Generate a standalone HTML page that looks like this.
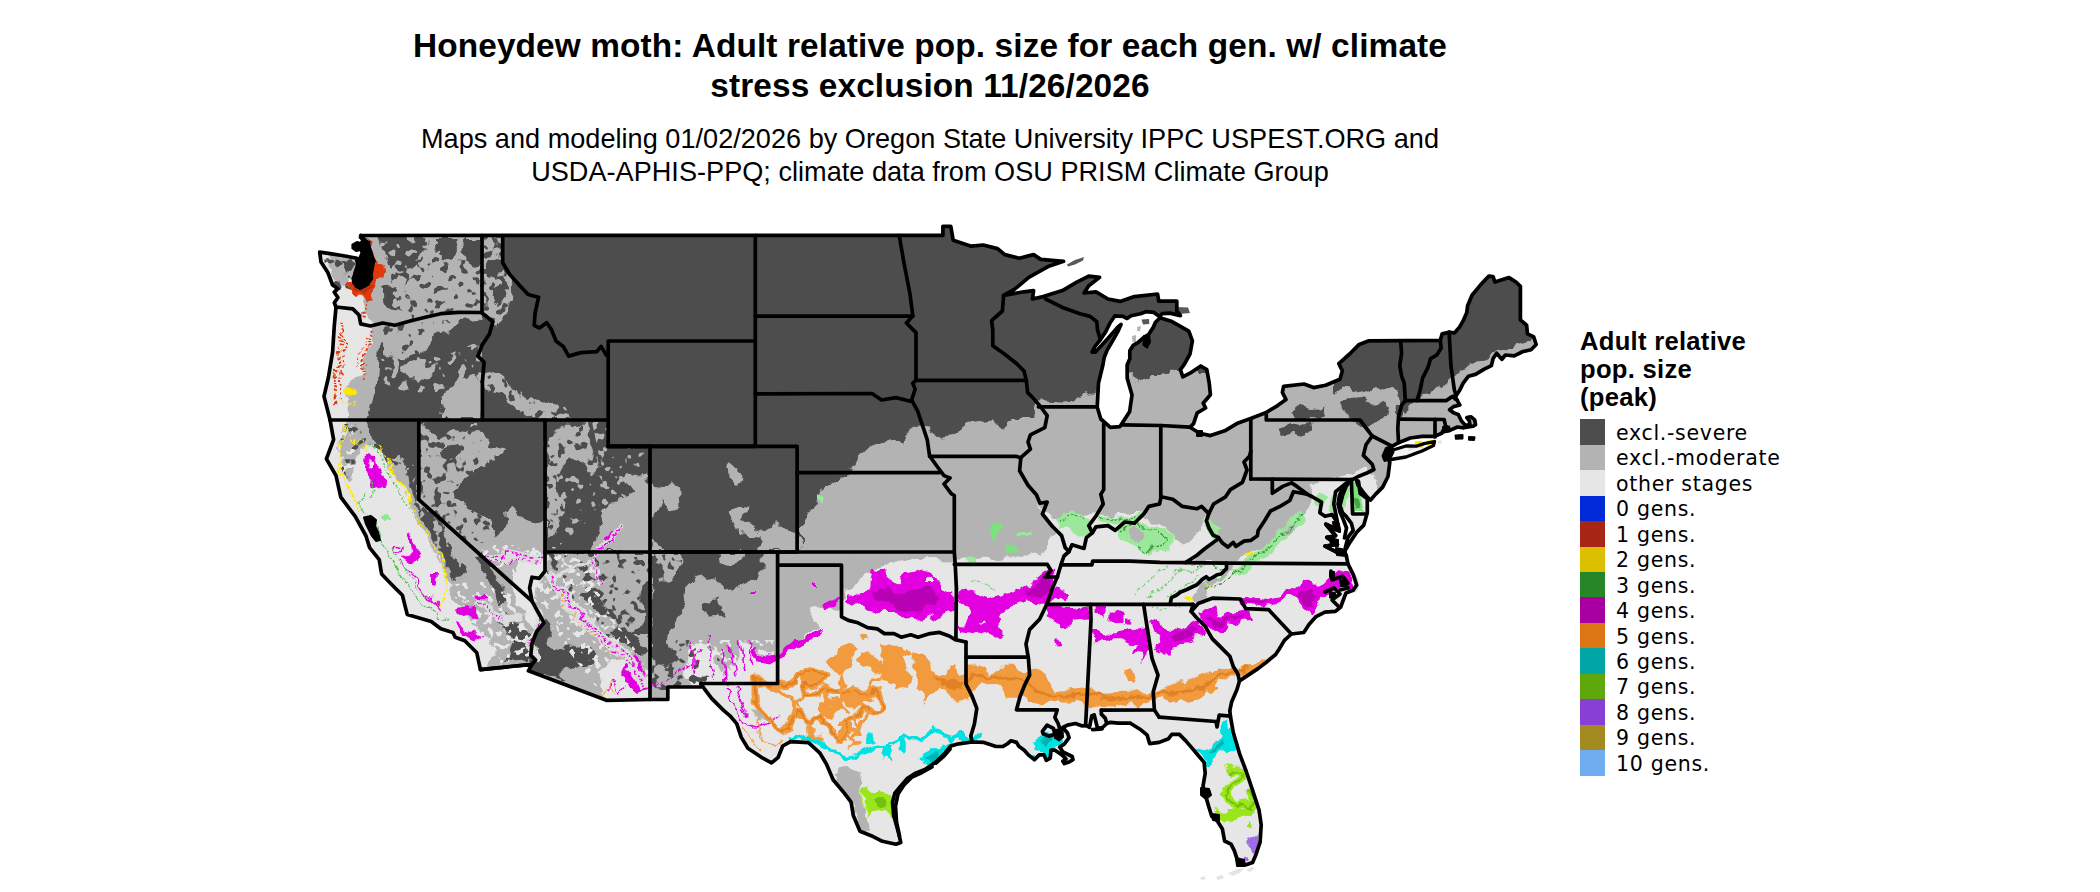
<!DOCTYPE html>
<html><head><meta charset="utf-8"><title>Honeydew moth</title>
<style>
html,body{margin:0;padding:0;background:#fff}
#p{position:relative;width:2100px;height:892px;overflow:hidden;background:#fff;font-family:"Liberation Sans",sans-serif;color:#000}
.t{position:absolute;left:0;width:1860px;text-align:center;white-space:nowrap}
#t1,#t2{font-weight:bold;font-size:33.4px;line-height:40px;letter-spacing:0.115px}
#s1,#s2{font-size:27.1px;line-height:33px;color:#000;letter-spacing:0.02px}
.lt{position:absolute;left:1580px;font-weight:bold;font-size:25.6px;line-height:28px;white-space:nowrap;letter-spacing:0.28px}
.sw{position:absolute;left:1580px;width:25px;height:25.6px}
.lb{position:absolute;left:1616px;height:25.44px;line-height:25.44px;font-family:"DejaVu Sans",sans-serif;font-size:20.5px;letter-spacing:0.7px;white-space:nowrap}
</style></head><body><div id="p">
<svg width="2100" height="892" viewBox="0 0 2100 892" style="position:absolute;left:0;top:0">
<defs><clipPath id="land"><polygon points="360.7,235.5 942.9,235.4 942.9,226.3 950.8,226.3 953.2,240.2 971.2,246.2 983.2,245.0 997.6,248.6 1004.8,254.6 1019.2,258.2 1033.6,254.6 1040.8,259.4 1063.6,261.3 1048.0,266.6 1028.8,277.4 1014.4,289.4 1003.6,295.4 1024.0,291.8 1033.6,290.6 1032.4,299.0 1043.2,296.6 1062.4,290.6 1076.8,282.2 1088.8,276.2 1099.6,277.4 1088.8,285.8 1084.0,293.0 1096.0,291.8 1108.0,299.0 1120.0,301.4 1134.4,296.6 1157.6,294.0 1158.8,301.2 1176.8,301.2 1176.8,311.0 1180.4,315.6 1170.0,313.1 1162.1,313.7 1159.4,316.4 1154.0,312.4 1145.9,311.7 1140.5,313.7 1131.1,315.8 1127.1,318.5 1123.0,316.4 1115.0,315.8 1110.3,322.5 1105.6,331.9 1100.2,340.0 1094.8,346.7 1092.1,352.1 1095.5,352.1 1102.2,344.7 1108.3,338.0 1113.6,331.9 1117.7,327.2 1121.0,324.5 1117.7,331.9 1112.3,341.3 1106.9,350.7 1104.2,357.5 1102.9,365.0 1098.5,383.0 1097.2,407.0 1100.8,419.0 1110.4,427.4 1120.0,426.6 1129.6,411.8 1132.0,395.0 1127.2,378.2 1127.1,365.0 1129.8,358.8 1129.8,350.7 1133.1,345.4 1137.8,342.7 1143.9,337.3 1148.6,334.6 1153.3,327.2 1155.3,322.5 1160.0,317.8 1172.0,321.6 1188.8,331.2 1192.4,340.8 1190.0,354.0 1184.0,364.8 1180.4,369.6 1182.8,376.8 1190.0,373.2 1200.8,366.0 1206.8,369.6 1209.2,382.8 1210.4,394.8 1203.2,403.2 1205.6,408.0 1197.2,412.8 1193.6,423.6 1190.0,427.2 1199.6,433.2 1210.4,435.6 1224.8,430.8 1236.8,423.6 1250.0,418.8 1265.6,412.8 1277.6,405.6 1286.0,399.6 1282.4,392.4 1283.6,386.4 1304.0,384.0 1313.6,387.6 1325.6,385.2 1340.0,379.2 1342.4,370.8 1338.8,363.6 1349.6,354.0 1359.2,344.4 1369.0,340.8 1440.3,340.3 1442.1,333.9 1449.1,332.2 1454.4,333.0 1459.7,326.9 1463.2,320.7 1466.7,312.8 1467.6,305.8 1472.0,295.2 1480.8,284.6 1488.7,276.2 1493.1,276.7 1494.9,282.0 1509.0,277.6 1516.0,282.0 1520.4,286.4 1520.4,319.8 1526.6,325.1 1527.5,333.9 1533.6,336.6 1536.2,344.5 1531.0,349.8 1523.0,351.5 1514.2,355.9 1505.4,355.0 1501.9,359.4 1496.6,353.3 1493.1,358.6 1491.4,365.6 1484.3,369.1 1475.5,374.4 1468.5,376.2 1463.2,383.2 1459.7,390.2 1456.2,395.5 1455.5,399.0 1454.9,395.6 1458.4,402.6 1459.8,405.0 1453.5,406.6 1449.6,409.7 1453.5,412.8 1458.2,414.4 1461.3,420.7 1465.3,425.4 1470.0,424.6 1469.2,420.7 1466.8,417.6 1470.8,416.8 1474.7,419.9 1475.5,424.6 1473.1,426.2 1463.7,427.8 1457.4,427.0 1450.4,430.1 1448.8,428.5 1445.6,426.2 1444.1,428.5 1441.7,433.3 1434.7,436.4 1422.1,436.4 1410.3,438.0 1398.5,442.7 1391.5,446.6 1386.2,455.4 1389.8,462.4 1388.0,476.5 1382.7,487.1 1375.7,494.1 1370.6,500.0 1367.8,497.6 1363.4,492.4 1358.1,485.3 1356.3,479.6 1358.5,481.5 1360.2,493.4 1367.3,498.7 1367.3,512.8 1363.8,525.1 1356.7,532.2 1349.7,542.7 1346.2,548.9 1345.3,548.0 1347.9,537.4 1353.2,530.4 1351.4,523.4 1346.2,516.3 1342.6,512.8 1340.0,505.8 1342.6,495.2 1346.2,486.4 1351.4,479.6 1344.4,484.6 1335.6,491.7 1333.8,504.0 1335.6,512.8 1339.1,530.4 1325.9,524.2 1335.6,535.7 1326.8,537.4 1337.4,544.5 1325.0,546.2 1339.1,553.3 1346.2,555.0 1347.9,563.8 1353.2,574.4 1356.7,585.0 1353.2,590.2 1346.0,592.9 1340.7,607.0 1335.4,611.4 1324.9,612.2 1316.1,616.6 1309.0,624.6 1303.8,632.5 1291.4,634.0 1284.4,640.4 1279.1,649.2 1275.6,654.5 1265.0,663.3 1258.0,668.6 1247.4,675.6 1239.5,680.9 1236.9,689.7 1231.6,702.0 1229.8,710.8 1230.4,716.1 1233.2,732.3 1239.6,753.8 1246.1,771.0 1252.6,790.4 1259.0,809.8 1261.2,824.8 1260.1,842.1 1255.8,855.0 1252.6,862.5 1246.1,864.7 1239.6,864.7 1237.5,860.4 1234.3,850.7 1231.0,844.2 1224.6,841.0 1222.4,829.1 1217.0,820.5 1211.7,816.2 1208.4,805.5 1206.3,797.9 1203.0,786.1 1205.2,773.2 1204.1,762.4 1198.7,756.0 1192.3,748.4 1185.8,740.9 1179.4,734.4 1171.8,734.4 1168.6,738.7 1159.2,742.4 1149.6,743.6 1147.2,735.2 1140.0,729.2 1130.4,723.2 1118.4,723.2 1109.9,722.4 1106.8,723.5 1102.0,728.0 1097.3,727.5 1094.2,714.9 1091.8,715.7 1089.5,727.5 1086.3,725.5 1082.4,725.9 1075.4,723.5 1067.5,725.1 1062.8,727.5 1067.5,733.0 1069.1,737.7 1064.4,744.0 1059.7,747.1 1062.8,751.8 1072.2,756.5 1073.0,759.7 1069.1,762.0 1064.4,763.6 1062.8,761.2 1065.9,758.9 1062.0,754.9 1054.9,750.2 1051.0,750.2 1050.2,758.1 1046.3,760.4 1044.0,754.9 1039.2,754.9 1034.5,759.7 1028.3,754.9 1024.3,750.2 1018.8,746.3 1016.5,742.4 1011.0,740.8 1007.1,744.0 1003.1,746.3 996.0,746.5 984.0,742.4 972.1,742.0 958.7,743.8 950.8,746.0 945.2,752.8 936.2,761.7 925.0,769.6 916.1,772.9 907.1,778.6 900.4,786.4 894.8,793.1 892.5,802.1 893.7,815.5 898.1,831.2 900.8,842.4 895.9,844.2 882.4,841.3 871.2,835.7 860.0,831.2 853.3,815.5 851.1,802.1 844.3,793.1 833.1,779.7 826.4,764.0 819.7,752.8 808.5,742.7 790.5,741.6 782.7,746.0 778.2,757.3 771.5,762.9 761.4,757.3 747.9,748.3 741.2,737.1 736.7,723.6 730.0,715.8 723.6,710.4 711.6,698.4 704.4,688.8 700.8,683.5 703.2,687.0 667.8,687.0 667.8,699.5 650.0,699.5 606.4,700.3 528.4,670.8 532.0,664.3 480.4,669.6 476.8,652.8 464.8,640.8 455.2,637.2 452.8,632.4 440.8,628.8 431.2,621.6 407.2,614.4 402.4,595.2 390.4,583.2 381.6,574.0 379.2,559.6 369.6,547.6 366.0,536.0 355.2,516.4 340.8,497.2 336.0,475.6 326.4,458.8 333.6,439.6 330.0,419.7 324.0,396.4 328.5,377.0 332.6,352.0 334.3,325.6 336.0,307.0 334.3,302.7 337.9,297.5 334.3,292.2 337.9,288.7 332.6,285.0 328.0,272.8 321.0,262.0 319.7,252.2 330.0,253.7 345.0,256.0 356.9,258.2 358.0,264.0 355.0,273.0 353.5,282.0 360.0,288.0 368.0,284.0 371.5,272.0 373.5,261.0 370.0,250.0 366.0,241.0 360.7,235.5"/><polygon points="1384.0,457.5 1393.0,450.0 1406.0,446.0 1416.0,446.2 1424.0,443.6 1434.5,441.5 1433.5,445.5 1422.0,451.0 1406.0,457.0 1391.0,459.5"/></clipPath><filter id="rough" x="0" y="0" width="2100" height="892" filterUnits="userSpaceOnUse" color-interpolation-filters="sRGB"><feTurbulence type="fractalNoise" baseFrequency="0.06" numOctaves="3" seed="7" result="n"/><feDisplacementMap in="SourceGraphic" in2="n" scale="14" xChannelSelector="R" yChannelSelector="G"/></filter><filter id="spA" x="300" y="215" width="500" height="520" filterUnits="userSpaceOnUse" color-interpolation-filters="sRGB"><feTurbulence type="fractalNoise" baseFrequency="0.12" numOctaves="2" seed="11" result="t"/><feColorMatrix in="t" type="matrix" values="0 0 0 0 0  0 0 0 0 0  0 0 0 0 0  0 0 0 16 -9.3" result="m"/><feComposite in="SourceGraphic" in2="m" operator="in"/></filter><filter id="spB" x="300" y="215" width="500" height="520" filterUnits="userSpaceOnUse" color-interpolation-filters="sRGB"><feTurbulence type="fractalNoise" baseFrequency="0.12" numOctaves="2" seed="23" result="t"/><feColorMatrix in="t" type="matrix" values="0 0 0 0 0  0 0 0 0 0  0 0 0 0 0  0 0 0 16 -9.5" result="m"/><feComposite in="SourceGraphic" in2="m" operator="in"/></filter><filter id="spC" x="300" y="215" width="500" height="520" filterUnits="userSpaceOnUse" color-interpolation-filters="sRGB"><feTurbulence type="fractalNoise" baseFrequency="0.16" numOctaves="2" seed="37" result="t"/><feColorMatrix in="t" type="matrix" values="0 0 0 0 0  0 0 0 0 0  0 0 0 0 0  0 0 0 16 -9.1" result="m"/><feComposite in="SourceGraphic" in2="m" operator="in"/></filter></defs>
<g clip-path="url(#land)">
<rect x="300" y="215" width="1260" height="677" fill="#e6e6e6"/>
<g filter="url(#rough)">
<g fill="#b3b3b3">
<polygon points="340.0,225.0 1000.0,225.0 1000.0,560.0 901.6,558.7 868.0,572.0 854.5,582.0 844.4,595.7 841.0,615.9 830.0,608.0 820.9,605.8 810.8,609.1 817.5,626.0 804.1,636.0 787.2,649.5 777.2,659.6 767.1,663.0 753.6,646.1 740.2,642.8 733.4,663.0 726.7,676.4 720.0,673.0 712.0,650.0 700.0,640.0 690.0,650.0 686.0,670.0 690.0,700.0 700.0,760.0 300.0,760.0 300.0,225.0"/>
<polygon points="800.0,380.0 1560.0,330.0 1560.0,470.0 1400.0,470.0 1392.0,476.0 1384.0,490.0 1378.0,486.0 1374.0,478.0 1366.5,467.4 1359.8,470.8 1349.7,475.8 1336.0,477.5 1322.8,480.9 1309.4,487.6 1312.7,497.7 1302.6,514.5 1285.8,527.9 1269.0,544.8 1248.8,554.8 1228.6,563.3 1185.5,562.6 1196.9,555.2 1205.0,548.5 1217.1,539.7 1218.4,537.7 1213.0,535.0 1209.0,528.0 1206.4,520.8 1208.8,513.6 1206.4,516.0 1204.0,528.0 1192.0,537.6 1182.4,544.8 1172.8,535.2 1163.2,525.6 1151.2,520.8 1144.0,513.6 1134.5,512.8 1114.3,514.5 1100.9,512.8 1087.4,514.5 1067.2,517.9 1050.4,514.5 1037.0,504.4 1048.0,520.0 1054.4,533.2 1049.6,542.8 1035.2,552.4 1016.0,559.6 992.0,559.6 982.4,552.4 977.6,538.0 968.0,528.4 956.0,533.2 951.2,535.6 941.6,538.0 934.4,550.0 900.8,547.6 880.0,556.0 800.0,560.0"/>
<polygon points="1226.5,563.2 1234.0,563.5 1230.0,570.0 1222.0,578.0 1214.0,584.0 1208.0,590.0 1206.0,598.0 1200.0,604.0 1194.0,600.0 1198.0,590.0 1202.3,581.0 1209.0,580.5 1217.1,575.7 1222.0,573.0"/>
</g>
<g fill="#e6e6e6">
<polygon points="318.0,250.0 340.0,254.0 346.0,262.0 356.0,292.0 362.0,300.0 366.0,312.0 372.0,328.0 370.0,344.0 364.0,370.0 360.0,392.0 352.0,404.0 348.0,419.7 340.8,425.2 338.4,449.2 343.2,470.8 350.4,482.8 355.2,466.0 362.4,449.2 372.0,442.0 379.2,449.2 393.6,473.2 405.6,490.0 412.8,514.0 424.8,535.6 434.4,552.4 444.0,569.2 452.0,588.0 466.0,596.0 480.0,604.0 492.0,616.0 500.0,632.0 498.0,650.0 490.0,668.0 470.0,672.0 300.0,672.0 300.0,250.0"/>
<polygon points="520.0,560.0 534.0,552.0 544.0,556.0 546.0,574.0 536.0,584.0 534.0,600.0 540.0,616.0 536.0,630.0 528.0,620.0 518.0,604.0 510.0,590.0 514.0,574.0"/>
<polygon points="598.0,672.0 612.0,660.0 628.0,664.0 640.0,672.0 651.0,676.0 651.0,700.0 606.0,700.0"/>
</g>
<g fill="#b3b3b3">
<polygon points="330.0,258.0 344.0,256.0 352.0,264.0 350.0,276.0 344.0,286.0 336.0,280.0 332.0,268.0"/>
<polygon points="350.0,380.0 362.0,372.0 368.0,390.0 366.0,419.0 348.0,419.0"/>
<polygon points="340.8,425.2 369.6,424.0 372.0,442.0 362.4,449.2 355.2,466.0 350.4,482.8 343.2,470.8 338.4,449.2"/>
<polygon points="346.0,421.0 378.0,421.0 380.0,440.0 372.0,448.0 362.0,446.0 356.0,452.0 348.0,444.0"/>
<polygon points="452.0,588.0 470.0,580.0 486.0,584.0 500.0,600.0 516.0,612.0 530.0,622.0 532.0,640.0 520.0,636.0 508.0,640.0 498.0,650.0 488.0,640.0 476.0,624.0 462.0,610.0 454.0,600.0"/>
<polygon points="835.4,770.7 844.3,765.1 857.8,773.0 862.3,788.6 860.0,806.6 864.5,815.5 871.2,824.5 871.2,833.5 860.0,830.0 853.3,815.5 851.1,802.1 844.3,793.1"/>
<polygon points="752.0,712.0 766.0,714.0 770.0,722.0 756.0,720.0"/>
</g>
<g fill="#4d4d4d">
<polygon points="482.0,318.6 465.4,318.6 458.4,325.6 449.6,332.6 433.8,334.4 423.2,350.2 405.6,357.3 388.0,353.8 379.2,343.2 377.0,383.0 372.0,403.0 367.0,419.5 369.6,424.0 372.0,442.0 381.6,449.2 386.4,461.2 396.0,456.4 405.6,466.0 408.0,487.6 417.6,509.2 427.2,528.4 436.8,547.6 446.4,566.8 453.0,582.0 460.0,581.0 466.0,566.0 453.6,552.4 444.0,533.2 434.4,514.0 418.8,499.6 417.6,475.6 418.8,424.0 479.0,424.0 486.4,438.4 503.2,448.0 500.8,457.6 481.6,467.2 462.4,479.2 455.2,491.2 464.8,505.6 491.2,520.0 496.0,536.8 505.0,528.0 503.0,512.0 513.0,503.0 520.0,520.0 534.4,524.8 545.0,520.0 545.0,552.0 681.6,552.0 681.6,564.0 674.4,573.6 664.8,583.2 651.6,588.0 651.6,634.0 660.0,634.0 674.4,624.0 684.0,607.2 686.4,588.0 696.0,578.4 715.2,576.0 722.4,590.4 741.6,588.0 753.6,576.0 765.6,568.8 765.6,552.0 800.0,552.0 800.0,528.4 809.6,511.6 824.0,487.6 845.6,475.6 852.8,463.6 872.0,444.4 893.6,437.2 900.8,444.4 905.6,434.8 917.6,426.4 927.2,427.6 934.4,434.8 944.0,439.6 953.6,432.4 968.0,422.8 982.4,421.6 1004.0,427.6 1013.6,418.0 1035.2,418.0 1036.4,408.4 1040.0,401.2 1064.0,402.4 1080.0,397.0 1095.2,394.0 1120.0,376.0 1131.2,373.2 1137.0,384.0 1143.2,382.8 1150.0,378.0 1157.6,378.0 1169.6,370.8 1182.0,371.0 1230.0,371.0 1230.0,225.0 482.0,225.0"/>
<polygon points="1335.0,395.0 1345.0,388.0 1352.0,394.0 1362.0,392.0 1372.0,388.0 1380.0,392.0 1392.0,388.0 1398.0,394.0 1402.0,410.0 1408.0,414.0 1412.0,402.0 1420.0,400.0 1424.0,393.0 1430.0,394.0 1436.0,386.0 1442.0,388.0 1446.0,382.0 1452.0,376.0 1457.0,373.0 1463.0,369.0 1469.0,366.0 1477.0,362.0 1485.0,358.0 1491.0,354.0 1499.0,350.0 1510.0,347.5 1521.0,344.0 1534.0,340.0 1560.0,334.0 1560.0,260.0 1335.0,260.0"/>
<polygon points="1340.0,404.0 1350.0,398.0 1362.0,397.0 1372.0,402.0 1384.0,400.0 1388.0,408.0 1384.0,418.0 1376.0,424.0 1366.0,426.0 1356.0,420.0 1348.0,416.0 1342.0,412.0"/>
<polygon points="1288.0,412.0 1296.0,405.0 1306.0,403.0 1316.0,407.0 1324.0,406.0 1326.0,414.0 1318.0,420.0 1306.0,418.0 1296.0,420.0"/>
<polygon points="1278.0,428.0 1290.0,424.0 1302.0,426.0 1312.0,424.0 1314.0,432.0 1304.0,436.0 1292.0,434.0 1282.0,436.0"/>
<polygon points="1395.0,404.0 1404.0,404.0 1404.0,414.0 1398.0,420.0 1394.0,412.0"/>
<polygon points="379.0,237.0 425.0,237.0 428.0,250.0 418.0,256.0 414.0,268.0 408.0,280.0 400.0,276.0 392.0,282.0 388.0,270.0 384.0,256.0"/>
<polygon points="434.0,237.0 455.0,237.0 458.0,254.0 452.0,260.0 441.0,256.0 434.0,246.0"/>
<polygon points="462.0,237.0 481.0,237.0 481.0,262.0 470.0,264.0 464.0,256.0"/>
<polygon points="383.0,287.0 398.0,283.0 402.0,294.0 398.0,304.0 402.0,313.0 394.0,312.0 388.0,308.0 383.0,298.0"/>
<polygon points="339.0,262.0 350.0,258.0 356.0,266.0 352.0,273.0 343.0,272.0"/>
<polygon points="479.0,424.0 543.0,424.0 543.0,520.0 534.4,524.8 520.0,520.0 513.0,503.0 503.0,512.0 505.0,528.0 496.0,536.8 491.2,520.0 464.8,505.6 455.2,491.2 462.4,479.2 481.6,467.2 500.8,457.6 503.2,448.0 486.4,438.4"/>
<polygon points="424.0,424.0 470.0,424.0 466.0,432.0 450.0,430.0 440.0,436.0 428.0,432.0"/>
<polygon points="440.0,448.0 456.0,444.0 462.0,452.0 452.0,462.0 442.0,458.0"/>
<polygon points="474.0,556.0 482.0,552.0 490.0,566.0 498.0,580.0 504.0,598.0 500.0,604.0 492.0,590.0 484.0,574.0"/>
<polygon points="498.0,612.0 512.0,616.0 524.0,626.0 532.0,640.0 530.0,662.0 504.0,664.0 510.0,650.0 514.0,640.0 506.0,628.0 498.0,620.0"/>
<polygon points="532.0,628.0 546.0,622.0 552.0,632.0 548.0,646.0 562.0,650.0 576.0,644.0 590.0,648.0 596.0,660.0 586.0,668.0 570.0,664.0 560.0,672.0 566.0,680.0 540.0,674.0 530.0,668.0 534.0,650.0"/>
<polygon points="580.8,559.2 588.0,564.0 585.6,573.6 579.6,568.8"/>
<polygon points="583.2,585.6 595.2,588.0 602.4,602.4 619.2,619.2 612.0,621.6 592.8,607.2 584.4,597.6"/>
<polygon points="640.8,583.2 649.2,578.4 651.0,634.0 631.2,634.0 636.0,626.4 645.6,612.0 638.4,595.2"/>
<polygon points="612.0,630.0 626.0,628.0 640.0,640.0 648.0,652.0 640.0,656.0 628.0,646.0 616.0,640.0"/>
<polygon points="705.6,602.4 717.6,598.8 724.8,614.4 708.0,615.6"/>
<polygon points="655.0,560.0 664.0,570.0 658.0,590.0 652.0,596.0 652.0,560.0"/>
<polygon points="652.0,600.0 664.0,596.0 672.0,610.0 668.0,640.0 676.0,660.0 664.0,668.0 652.0,660.0"/>
</g>
<g fill="#b3b3b3">
<polygon points="447.9,389.8 460.0,380.0 474.8,373.0 481.6,389.8 481.6,418.0 441.2,418.0"/>
<polygon points="400.0,366.0 420.0,360.0 436.0,366.0 430.0,378.0 410.0,380.0"/>
<polygon points="483.3,369.7 501.7,376.4 518.6,389.8 542.1,403.3 565.6,406.6 572.0,418.0 535.4,418.0 515.2,410.0 501.7,393.2 483.3,389.8"/>
<polygon points="483.3,236.9 501.7,236.9 501.7,265.4 515.2,292.3 508.5,309.1 495.0,329.3 488.3,315.9 483.3,315.0"/>
<polygon points="547.2,439.2 564.0,424.8 588.0,424.8 591.6,448.8 600.0,468.0 590.4,477.6 583.2,460.8 571.2,456.0 561.6,468.0 556.0,490.0 562.0,510.0 556.0,530.0 547.2,540.0"/>
<polygon points="602.4,511.2 612.0,501.6 631.2,496.8 645.6,489.6 649.2,516.0 649.2,551.0 590.0,551.0 600.0,532.8"/>
<polygon points="622.0,478.0 640.0,474.0 651.6,484.8 679.2,487.2 680.4,508.8 669.6,511.2 660.0,499.2 651.6,520.8 651.6,540.0 664.0,551.0 651.0,551.0 646.0,510.0 634.0,494.0"/>
<polygon points="727.2,460.8 746.4,477.6 736.8,487.2 729.6,475.2"/>
<polygon points="727.2,513.6 739.2,502.8 746.4,504.0 744.0,520.8 760.8,532.8 775.2,523.2 795.6,530.4 800.0,551.0 756.0,551.0 763.2,537.6 739.2,535.2 734.4,520.8"/>
<polygon points="720.0,552.0 745.0,552.0 742.0,560.0 730.0,566.0 722.0,562.0"/>
</g>
<g fill="#4d4d4d">
<polygon points="490.0,262.0 500.0,258.0 504.0,270.0 496.0,278.0 488.0,272.0"/>
<polygon points="490.0,288.0 502.0,284.0 506.0,296.0 498.0,304.0 490.0,298.0"/>
<polygon points="560.0,474.0 570.0,468.0 578.0,480.0 572.0,496.0 580.0,510.0 570.0,520.0 562.0,508.0 564.0,492.0"/>
</g>
<g fill="#f2f2f2">
<polygon points="1384.0,457.5 1393.0,450.0 1406.0,446.0 1416.0,446.2 1424.0,443.6 1434.5,441.5 1433.5,445.5 1422.0,451.0 1406.0,457.0 1391.0,459.5"/>
</g>
</g>
<g fill="#4d4d4d" filter="url(#spA)">
<polygon points="419.0,421.0 480.0,421.0 505.0,448.0 500.0,460.0 470.0,475.0 455.0,492.0 465.0,506.0 492.0,522.0 497.0,540.0 470.0,545.0 440.0,520.0 419.0,500.0"/>
<polygon points="405.0,240.0 481.0,240.0 481.0,312.0 440.0,313.0 409.0,321.0 400.0,300.0 410.0,270.0"/>
<polygon points="380.0,327.0 465.0,318.0 482.0,320.0 480.0,350.0 440.0,358.0 400.0,358.0 380.0,345.0"/>
<polygon points="483.0,237.0 502.0,237.0 516.0,292.0 508.0,310.0 496.0,330.0 484.0,316.0"/>
<polygon points="546.0,422.0 592.0,422.0 602.0,470.0 590.0,480.0 560.0,470.0 556.0,545.0 546.0,545.0"/>
<polygon points="546.0,553.0 650.0,553.0 650.0,640.0 600.0,640.0 560.0,600.0 546.0,580.0"/>
<polygon points="651.0,553.0 682.0,553.0 682.0,566.0 665.0,584.0 652.0,590.0"/>
<polygon points="340.0,424.0 419.0,424.0 419.0,470.0 400.0,470.0 380.0,450.0 360.0,450.0 350.0,480.0 340.0,470.0"/>
<polygon points="324.0,258.0 352.0,258.0 352.0,290.0 336.0,290.0 326.0,272.0"/>
<polygon points="483.0,368.0 520.0,388.0 570.0,406.0 572.0,419.0 483.0,419.0"/>
<polygon points="652.0,640.0 700.0,640.0 720.0,660.0 700.0,690.0 652.0,690.0"/>
</g>
<g fill="#b3b3b3" filter="url(#spB)">
<polygon points="380.0,345.0 440.0,358.0 482.0,340.0 482.0,380.0 440.0,395.0 400.0,390.0 376.0,380.0"/>
<polygon points="592.0,422.0 608.0,422.0 608.0,446.0 650.0,446.0 650.0,500.0 600.0,510.0 560.0,545.0 556.0,470.0 590.0,480.0 602.0,470.0"/>
<polygon points="400.0,456.0 420.0,470.0 420.0,500.0 470.0,560.0 468.0,585.0 452.0,585.0 430.0,545.0 410.0,505.0 400.0,480.0"/>
<polygon points="379.0,237.0 430.0,237.0 420.0,280.0 400.0,312.0 384.0,300.0"/>
</g>
<g fill="#e6e6e6" filter="url(#spC)">
<polygon points="470.0,545.0 546.0,545.0 600.0,560.0 600.0,600.0 560.0,600.0 532.0,602.0"/>
<polygon points="450.0,585.0 480.0,580.0 532.0,604.0 532.0,664.0 500.0,668.0 480.0,640.0 460.0,610.0"/>
<polygon points="548.0,565.0 600.0,600.0 650.0,670.0 650.0,700.0 606.0,700.0 560.0,640.0 540.0,610.0"/>
<polygon points="332.0,425.0 352.0,425.0 360.0,470.0 350.0,495.0 338.0,470.0"/>
<polygon points="690.0,640.0 777.0,640.0 777.0,683.0 700.0,683.0"/>
</g>
<g filter="url(#rough)">
<polygon fill="#e300e0" points="846.0,597.6 858.0,591.6 870.0,585.6 872.4,568.8 882.0,570.0 891.6,580.8 901.2,585.6 906.0,573.6 920.4,567.6 930.0,570.0 939.6,580.8 949.2,590.4 955.2,591.6 955.2,609.6 944.4,612.0 939.6,621.6 930.0,614.4 920.4,619.2 906.0,620.4 896.4,612.0 882.0,612.0 867.6,609.6 862.8,602.4 853.2,604.8 846.0,602.4"/>
<polygon fill="#b800b4" points="872.0,590.0 884.0,588.0 900.0,594.0 915.0,590.0 928.0,586.0 940.0,596.0 936.0,606.0 920.0,608.0 905.0,612.0 890.0,604.0 876.0,600.0"/>
<polygon fill="#e6e6e6" points="926.0,574.0 932.0,576.0 932.0,582.0 926.0,582.0"/>
<polygon fill="#e300e0" points="824.0,601.0 839.0,600.0 838.0,609.0 826.0,610.0"/>
<polygon fill="#e300e0" points="754.8,645.6 762.0,652.8 774.0,655.2 786.0,648.0 795.6,638.4 810.0,634.8 819.6,626.4 822.0,632.0 817.2,638.0 802.8,643.0 790.8,652.0 778.8,660.0 766.8,663.5 758.0,658.0 752.0,650.0"/>
<polygon fill="#e300e0" points="811.0,585.0 815.0,585.0 815.0,589.0 811.0,589.0"/>
<polygon fill="#e300e0" points="753.0,590.0 756.0,590.0 756.0,594.0 753.0,594.0"/>
<polygon fill="#e300e0" points="960.4,590.7 975.5,594.0 989.0,599.1 1005.8,594.0 1022.6,587.3 1036.1,580.6 1047.8,570.5 1056.2,572.2 1056.2,587.3 1046.2,602.4 1036.1,605.8 1022.6,599.1 1009.2,609.1 999.1,615.9 1002.5,632.7 992.4,634.4 985.6,619.2 975.5,629.3 965.5,626.0 972.2,612.5 960.4,602.4"/>
<polygon fill="#b800b4" points="1024.0,590.0 1036.0,584.0 1046.0,574.0 1054.0,576.0 1050.0,590.0 1040.0,598.0 1028.0,596.0"/>
<polygon fill="#e300e0" points="1042.8,609.1 1052.0,606.0 1060.0,609.2 1075.0,611.0 1086.4,608.0 1087.6,617.6 1075.0,620.0 1067.2,629.6 1056.2,622.6 1046.2,615.9"/>
<polygon fill="#e300e0" points="1044.0,590.0 1052.0,588.0 1060.0,590.0 1067.0,592.0 1066.0,602.0 1056.0,600.0 1048.0,604.0 1042.0,600.0"/>
<polygon fill="#e300e0" points="1054.8,640.4 1063.2,640.4 1063.2,646.4 1054.8,646.4"/>
<polygon fill="#e300e0" points="960.0,626.0 974.4,627.2 986.4,622.4 996.0,624.8 1003.2,634.4 996.0,637.0 986.0,632.0 974.4,634.4 960.0,632.0"/>
<polygon fill="#e300e0" points="1091.2,628.4 1103.0,632.0 1115.2,633.2 1127.0,632.0 1136.8,627.2 1142.8,623.6 1146.4,624.8 1148.8,639.2 1147.6,656.0 1144.0,663.2 1141.6,656.0 1132.0,654.8 1134.4,646.4 1127.2,644.0 1120.0,639.2 1108.0,639.2 1096.0,641.6 1091.2,634.4"/>
<polygon fill="#e300e0" points="1093.6,608.0 1105.6,608.0 1105.6,614.0 1093.6,614.0"/>
<polygon fill="#e300e0" points="1111.6,611.6 1123.6,611.6 1123.6,620.0 1111.6,620.0"/>
<polygon fill="#e300e0" points="1126.0,617.6 1133.2,617.6 1133.2,623.6 1126.0,623.6"/>
<polygon fill="#e300e0" points="1150.0,620.0 1158.4,617.6 1163.2,629.6 1172.8,632.0 1184.8,626.0 1194.4,618.8 1201.6,620.0 1204.0,632.0 1194.4,636.8 1189.6,644.0 1175.2,646.4 1172.8,653.6 1163.2,653.6 1156.0,648.8 1158.4,639.2 1152.4,632.0"/>
<polygon fill="#b800b4" points="1172.0,636.0 1184.0,630.0 1196.0,624.0 1200.0,630.0 1190.0,638.0 1178.0,642.0"/>
<polygon fill="#e300e0" points="1198.0,612.8 1208.8,611.6 1213.6,606.8 1218.4,616.4 1228.0,611.6 1240.0,609.2 1249.6,611.6 1253.2,618.8 1240.0,620.0 1237.6,624.8 1228.0,623.6 1223.2,630.8 1211.2,629.6 1204.0,622.4"/>
<polygon fill="#b800b4" points="1208.0,618.0 1220.0,620.0 1232.0,616.0 1244.0,614.0 1240.0,618.0 1226.0,622.0 1214.0,626.0"/>
<polygon fill="#e300e0" points="1240.0,598.4 1249.6,596.0 1261.6,599.6 1271.2,596.0 1285.6,592.4 1295.2,588.8 1304.8,582.8 1319.2,584.0 1326.4,580.4 1332.4,572.0 1348.0,574.4 1356.4,586.4 1343.2,588.8 1331.2,591.2 1319.2,596.0 1318.0,605.6 1310.8,614.0 1301.2,608.0 1296.4,598.4 1290.4,596.0 1276.0,602.0 1264.0,606.8 1252.0,605.6 1244.8,606.8"/>
<polygon fill="#b800b4" points="1300.0,590.0 1312.0,588.0 1316.0,596.0 1312.0,606.0 1304.0,604.0 1300.0,596.0"/>
<polygon fill="#b800b4" points="1246.0,600.0 1258.0,602.0 1268.0,600.0 1262.0,604.0 1250.0,604.0"/>
<polygon fill="#f29a3e" points="960.0,676.4 969.6,665.6 981.6,665.6 991.2,675.2 1000.8,666.8 1015.2,666.8 1027.2,672.8 1039.2,666.8 1048.8,675.2 1051.2,689.6 1065.6,690.8 1084.8,688.4 1091.2,687.2 1096.0,694.4 1108.0,694.4 1122.4,690.8 1139.2,690.8 1152.4,693.2 1163.2,690.8 1170.4,684.8 1177.6,680.0 1187.2,684.8 1194.4,682.4 1201.6,672.8 1213.6,668.0 1228.0,668.0 1237.6,671.6 1247.2,665.6 1259.2,658.4 1266.4,658.4 1261.6,665.6 1249.6,672.8 1240.0,677.6 1228.0,677.6 1218.4,680.0 1213.6,687.2 1218.4,692.0 1208.8,692.0 1204.0,687.2 1199.2,699.2 1189.6,704.0 1180.0,699.2 1172.8,704.0 1165.6,699.2 1156.0,701.6 1141.6,704.0 1136.8,708.8 1129.6,701.6 1115.2,706.4 1100.8,704.0 1088.8,706.4 1079.2,701.6 1065.6,702.8 1051.2,701.6 1041.6,706.4 1027.2,704.0 1020.0,696.8 1008.0,696.8 1000.8,687.2 991.2,684.8 981.6,682.4 974.4,689.6 969.6,699.2 960.0,699.2"/>
<polygon fill="#f29a3e" points="1124.0,672.0 1130.0,669.0 1137.0,674.0 1134.0,682.0 1127.0,682.0"/>
<polygon fill="#f29a3e" points="915.6,652.8 925.2,660.0 932.4,669.6 944.4,674.4 951.6,664.8 956.4,672.0 966.0,674.4 966.0,698.0 963.6,698.4 954.0,700.8 946.8,693.6 937.2,688.8 930.0,696.0 925.2,705.6 922.8,693.6 918.0,688.8 920.4,674.4 913.2,664.8"/>
<polygon fill="#e08224" points="936.0,676.0 946.0,680.0 956.0,678.0 964.0,682.0 962.0,692.0 950.0,690.0 940.0,684.0"/>
<polygon fill="#f29a3e" points="891.6,650.4 901.2,646.8 913.2,650.4 915.6,660.0 906.0,655.2 896.4,657.6 891.6,664.8 889.2,674.4 906.0,674.4 910.8,684.0 898.8,681.6 886.8,684.0 882.0,676.8 884.4,655.2"/>
<polygon fill="#f29a3e" points="826.8,660.0 838.8,655.2 848.4,643.2 855.6,645.6 853.2,660.0 850.8,669.6 838.8,674.4 829.2,669.6"/>
<polygon fill="#f29a3e" points="860.4,648.0 872.4,655.2 882.0,660.0 879.6,669.6 870.0,664.8 862.8,667.2 858.0,660.0"/>
<polygon fill="#f29a3e" points="857.0,636.0 866.0,634.0 868.0,640.0 860.0,642.0"/>
<polygon fill="#f29a3e" points="800.0,672.0 812.0,668.0 822.0,672.0 826.0,682.0 816.0,688.0 806.0,686.0 800.0,680.0"/>
<polygon fill="#f29a3e" points="838.0,690.0 852.0,686.0 866.0,690.0 870.0,700.0 860.0,706.0 848.0,704.0 840.0,698.0"/>
<polygon fill="#f29a3e" points="818.0,700.0 830.0,698.0 838.0,708.0 832.0,720.0 822.0,718.0 816.0,710.0"/>
<polygon fill="#f29a3e" points="838.0,724.0 848.0,720.0 852.0,730.0 846.0,742.0 838.0,740.0"/>
<polygon fill="#f29a3e" points="880.0,648.0 892.0,644.0 902.0,650.0 906.0,664.0 914.0,676.0 908.0,690.0 896.0,688.0 888.0,676.0 884.0,662.0"/>
<polygon fill="#f29a3e" points="866.0,652.0 876.0,656.0 884.0,664.0 886.0,676.0 876.0,672.0 868.0,664.0"/>
<polygon fill="#00e2e2" points="920.6,757.3 926.0,748.0 931.8,746.0 940.7,752.0 944.0,746.0 952.0,741.0 948.0,750.0 938.0,760.0 931.8,766.2 922.8,768.5"/>
<polygon fill="#00b4b4" points="924.0,758.0 932.0,752.0 938.0,756.0 930.0,764.0"/>
<polygon fill="#00e2e2" points="882.0,746.0 891.0,746.0 890.0,762.0 886.0,756.0 883.0,760.0"/>
<polygon fill="#00e2e2" points="896.0,742.0 906.0,740.0 904.0,754.0 899.0,750.0"/>
<polygon fill="#00e2e2" points="862.0,736.0 870.0,734.0 872.0,744.0 864.0,746.0"/>
<polygon fill="#00e2e2" points="960.0,735.2 981.6,732.8 981.6,738.0 969.6,742.4 960.0,742.4"/>
<polygon fill="#00e2e2" points="1033.8,741.0 1040.0,733.0 1046.0,731.0 1055.0,737.0 1062.0,738.0 1065.0,742.0 1060.0,747.0 1054.0,750.0 1050.0,757.0 1045.0,756.0 1040.0,752.0 1034.4,749.6"/>
<polygon fill="#00b4b4" points="1040.0,738.0 1050.0,737.0 1054.0,744.0 1044.0,748.0"/>
<polygon fill="#00e2e2" points="1022.0,752.0 1032.0,756.0 1030.0,760.0 1022.0,757.0"/>
<polygon fill="#00e2e2" points="1196.8,749.6 1208.8,744.8 1223.2,737.6 1224.0,722.0 1228.0,719.6 1231.6,722.0 1232.8,736.4 1236.4,747.2 1234.0,752.0 1228.0,752.0 1218.4,754.4 1213.6,761.6 1208.8,766.4 1204.0,756.8"/>
<polygon fill="#00b4b4" points="1206.0,750.0 1216.0,746.0 1224.0,742.0 1226.0,748.0 1214.0,752.0"/>
<polygon fill="#9be61a" points="862.3,790.9 868.0,786.0 872.0,790.0 880.0,790.0 888.0,792.0 893.0,798.0 892.0,812.0 895.9,824.5 890.0,816.0 884.0,810.0 876.0,812.0 868.0,816.0 864.0,808.0 866.0,800.0"/>
<polygon fill="#74c010" points="874.0,796.0 884.0,795.0 889.0,802.0 886.0,808.0 878.0,806.0"/>
<polygon fill="#9be61a" points="1212.0,810.0 1222.0,812.0 1232.0,808.0 1244.0,810.0 1254.0,808.0 1254.0,814.0 1244.0,818.0 1236.0,822.0 1226.0,820.0 1216.0,816.0"/>
<polygon fill="#9be61a" points="1246.0,822.0 1249.0,822.0 1249.0,826.0 1246.0,826.0"/>
<polygon fill="#a06ae8" points="1246.0,843.0 1252.0,838.0 1258.5,833.0 1259.5,846.0 1254.0,850.0 1249.0,848.0"/>
<polygon fill="#a06ae8" points="1213.8,824.8 1217.0,826.0 1219.2,831.3 1215.0,830.0"/>
<polygon fill="#a06ae8" points="1244.0,859.0 1252.0,858.0 1251.0,862.0 1245.0,862.5"/>
<polygon fill="#e03a0a" points="365.0,237.6 371.3,239.3 372.2,247.4 376.6,254.6 380.2,260.9 383.8,265.4 382.0,271.6 378.4,278.8 376.6,286.0 373.0,293.2 372.2,302.1 365.9,300.3 359.6,296.7 353.3,296.7 347.9,291.4 343.5,284.2 347.9,280.6 352.4,284.2 359.6,289.6 367.7,286.9 373.0,280.6 373.0,271.6 374.8,262.7 371.3,254.6 370.4,248.3 369.5,242.0"/>
<polygon fill="#b83410" points="350.0,285.0 358.0,291.0 368.0,290.0 374.0,284.0 372.0,292.0 364.0,296.0 354.0,294.0"/>
<polygon fill="#ffe800" points="347.0,390.0 356.0,388.0 357.0,392.0 348.0,394.0"/>
<polygon fill="#8fe88f" points="381.0,516.0 388.0,515.0 390.0,521.0 383.0,522.0"/>
<polygon fill="#e300e0" points="366.1,453.9 374.7,455.3 377.6,466.8 384.8,478.4 386.2,487.0 377.6,484.1 370.4,487.0 369.0,472.6 364.6,466.8"/>
<polygon fill="#e6e6e6" points="370.0,460.0 374.0,461.0 374.0,468.0 371.0,467.0"/>
<polygon fill="#e300e0" points="406.4,533.1 411.0,534.0 415.0,541.7 419.4,553.2 412.2,561.9 403.5,556.1 409.0,555.0 413.0,550.0 410.0,540.0"/>
<polygon fill="#e300e0" points="430.9,572.0 438.0,572.0 436.6,586.4 431.0,585.0"/>
<polygon fill="#e300e0" points="455.4,608.0 464.0,606.0 472.6,605.1 475.5,616.6 466.0,614.0 458.2,616.6"/>
<polygon fill="#e300e0" points="478.4,593.6 487.0,593.6 487.0,599.3 478.4,599.3"/>
<polygon fill="#e300e0" points="452.5,625.3 458.0,626.0 464.0,633.9 470.0,630.0 475.5,629.6 484.2,636.8 475.5,642.5 468.0,638.0 462.0,638.0"/>
<polygon fill="#e6e6e6" points="409.0,629.0 421.0,628.0 422.0,633.0 410.0,634.0"/>
<polygon fill="#ffe800" points="428.0,650.0 431.0,650.0 431.5,654.5 428.5,654.0"/>
<polygon fill="#e0e0e0" points="447.0,643.0 452.0,645.0 455.0,650.0 450.0,648.0"/>
<polygon fill="#e0e0e0" points="448.0,654.0 452.0,656.0 455.0,662.7 450.0,660.0"/>
<polygon fill="#e300e0" points="604.0,536.0 612.0,530.0 618.0,531.0 612.0,540.0 606.0,543.0"/>
<polygon fill="#e300e0" points="622.0,676.0 628.0,662.0 634.0,654.0 640.0,666.0 646.0,680.0 650.0,692.0 640.0,696.0 632.0,690.0"/>
<polygon fill="#9be89b" points="1055.2,516.0 1072.0,511.2 1084.0,516.0 1091.2,523.2 1086.4,537.6 1076.8,532.8 1067.2,525.6 1057.6,528.0"/>
<polygon fill="#9be89b" points="1096.0,516.0 1108.0,513.6 1120.0,518.4 1134.4,516.0 1144.0,511.2 1141.6,520.8 1124.8,525.6 1112.8,523.2 1100.8,523.2"/>
<polygon fill="#9be89b" points="1117.6,528.0 1134.4,523.2 1148.8,523.2 1163.2,528.0 1172.8,535.2 1168.0,549.6 1156.0,554.4 1144.0,549.6 1132.0,544.8 1120.0,540.0"/>
<polygon fill="#b3b3b3" points="1128.0,530.0 1140.0,528.0 1146.0,536.0 1138.0,542.0 1130.0,538.0"/>
<polygon fill="#9be89b" points="1204.0,518.0 1214.0,520.0 1222.0,530.0 1216.0,538.0 1208.0,532.0"/>
<polygon fill="#9be89b" points="1300.0,510.0 1306.0,516.0 1296.0,528.0 1284.0,540.0 1272.0,552.0 1260.0,562.0 1248.0,570.0 1236.0,577.0 1228.0,578.0 1234.0,570.0 1246.0,562.0 1258.0,552.0 1270.0,540.0 1282.0,528.0 1292.0,516.0"/>
<polygon fill="#b3b3b3" points="1290.0,522.0 1296.0,524.0 1290.0,532.0 1284.0,536.0 1282.0,530.0"/>
<polygon fill="#9be89b" points="1318.0,494.0 1326.0,500.0 1322.0,508.0 1314.0,504.0"/>
<polygon fill="#9be89b" points="1330.0,498.0 1342.0,488.0 1350.0,484.0 1350.0,496.0 1342.0,506.0 1334.0,512.0"/>
<polygon fill="#7ee07e" points="1352.5,482.0 1358.0,482.0 1360.0,494.0 1364.0,502.0 1366.0,513.0 1353.0,513.0"/>
<polygon fill="#3fa83f" points="1354.0,496.0 1360.0,498.0 1362.0,508.0 1355.0,509.0"/>
<polygon fill="#ffe800" points="1184.0,596.0 1190.0,595.0 1196.0,599.0 1188.0,601.0"/>
<polygon fill="#ffe800" points="1246.0,554.0 1254.0,553.0 1256.0,557.0 1248.0,558.0"/>
<polygon fill="#7ee07e" points="990.0,526.0 998.0,524.0 998.0,536.0 991.0,538.0"/>
<polygon fill="#9be89b" points="966.0,558.0 976.0,556.0 976.0,564.0 967.0,564.0"/>
<polygon fill="#7ee07e" points="1004.0,548.0 1016.0,544.0 1018.0,552.0 1008.0,556.0"/>
<polygon fill="#9be89b" points="1016.0,534.0 1032.0,532.0 1030.0,537.0 1018.0,538.0"/>
<polygon fill="#9be89b" points="818.0,492.0 826.0,494.0 824.0,500.0 818.0,498.0"/>
<polygon fill="#ffe800" points="1415.0,441.5 1421.5,440.5 1421.5,446.0 1415.0,446.5"/>
<polygon fill="#ffe800" points="1426.5,440.5 1435.0,439.5 1435.0,443.5 1427.0,444.5"/>
<polyline fill="none" stroke="#e300e0" stroke-width="1.6" stroke-linejoin="round" points="738.0,642.0 742.0,657.0 744.0,672.0"/>
<polyline fill="none" stroke="#e300e0" stroke-width="1.6" stroke-linejoin="round" points="748.0,640.0 751.0,652.0 752.0,664.0"/>
<polyline fill="none" stroke="#e300e0" stroke-width="1.6" stroke-linejoin="round" points="730.0,648.0 734.0,662.0 736.0,676.0"/>
<polyline fill="none" stroke="#e300e0" stroke-width="1.6" stroke-linejoin="round" points="722.0,652.0 725.0,668.0 726.0,684.0"/>
<polyline fill="none" stroke="#e300e0" stroke-width="1.4" stroke-linejoin="round" points="722.0,688.0 730.0,700.0 738.0,708.0 744.0,722.0 756.0,726.0 770.0,722.0 780.0,716.0"/>
<polyline fill="none" stroke="#e300e0" stroke-width="1.4" stroke-linejoin="round" points="736.0,690.0 742.0,704.0 748.0,716.0"/>
<polyline fill="none" stroke="#e08224" stroke-width="3" stroke-linejoin="round" points="964.0,684.0 976.0,674.0 988.0,678.0 1000.0,676.0 1014.0,676.0 1026.0,684.0 1040.0,690.0 1052.0,696.0 1070.0,696.0 1090.0,695.0 1110.0,699.0 1130.0,696.0 1150.0,697.0 1166.0,694.0 1180.0,690.0 1196.0,690.0 1206.0,680.0 1220.0,674.0 1236.0,674.0 1250.0,668.0"/>
<polyline fill="none" stroke="#f29a3e" stroke-width="6.5" stroke-linejoin="round" points="754.8,676.8 762.0,684.0 774.0,686.4 786.0,684.0 798.0,676.8 814.8,672.0 824.4,676.8 819.6,684.0 805.2,684.0 802.8,693.6 814.8,693.6 824.4,688.8 838.8,693.6 853.2,691.2 867.6,693.6 877.2,688.8 882.0,708.0 872.4,712.8 862.8,708.0 853.2,717.6 843.6,722.4 846.0,732.0 838.8,741.6 831.6,732.0 824.4,727.2 819.6,717.6 810.0,722.4 802.8,712.8 790.8,717.6 788.4,727.2 781.2,732.0 771.6,722.4 762.0,712.8 756.0,703.2 754.8,691.2 754.8,676.8"/>
<polyline fill="none" stroke="#e08224" stroke-width="2.2" stroke-linejoin="round" points="754.8,676.8 762.0,684.0 774.0,686.4 786.0,684.0 798.0,676.8 814.8,672.0 824.4,676.8 819.6,684.0 805.2,684.0 802.8,693.6 814.8,693.6 824.4,688.8 838.8,693.6 853.2,691.2 867.6,693.6 877.2,688.8 882.0,708.0 872.4,712.8 862.8,708.0 853.2,717.6 843.6,722.4 846.0,732.0 838.8,741.6 831.6,732.0 824.4,727.2 819.6,717.6 810.0,722.4 802.8,712.8 790.8,717.6 788.4,727.2 781.2,732.0 771.6,722.4 762.0,712.8 756.0,703.2 754.8,691.2 754.8,676.8"/>
<polyline fill="none" stroke="#f29a3e" stroke-width="3.5" stroke-linejoin="round" points="824.4,688.8 830.0,700.0 842.0,704.0 850.0,712.0"/>
<polyline fill="none" stroke="#f29a3e" stroke-width="3.5" stroke-linejoin="round" points="838.8,674.4 842.0,684.0 838.8,693.6"/>
<polyline fill="none" stroke="#f29a3e" stroke-width="3" stroke-linejoin="round" points="802.8,693.6 798.0,704.0 802.8,712.8"/>
<polyline fill="none" stroke="#f29a3e" stroke-width="3" stroke-linejoin="round" points="867.6,693.6 874.0,680.0 882.0,676.8"/>
<polyline fill="none" stroke="#f29a3e" stroke-width="2.5" stroke-linejoin="round" points="838.8,741.6 850.0,736.0 858.0,742.0 848.0,748.0"/>
<polyline fill="none" stroke="#f29a3e" stroke-width="1.3" stroke-linejoin="round" points="756.0,720.0 762.0,736.0 772.0,744.0 780.0,738.0"/>
<polyline fill="none" stroke="#f29a3e" stroke-width="1.3" stroke-linejoin="round" points="744.0,730.0 752.0,744.0 762.0,752.0"/>
<polyline fill="none" stroke="#f29a3e" stroke-width="5" stroke-linejoin="round" points="790.8,717.6 796.0,704.0 790.0,694.0 780.0,690.0 774.0,686.4"/>
<polyline fill="none" stroke="#f29a3e" stroke-width="5" stroke-linejoin="round" points="819.6,717.6 826.0,708.0 838.0,706.0 846.0,698.0 853.2,691.2"/>
<polyline fill="none" stroke="#f29a3e" stroke-width="4" stroke-linejoin="round" points="810.0,722.4 812.0,734.0 822.0,738.0"/>
<polyline fill="none" stroke="#f29a3e" stroke-width="4" stroke-linejoin="round" points="846.0,732.0 856.0,728.0 862.0,720.0 872.4,712.8"/>
<polyline fill="none" stroke="#f29a3e" stroke-width="4" stroke-linejoin="round" points="853.2,717.6 858.0,730.0 852.0,740.0"/>
<polyline fill="none" stroke="#00e2e2" stroke-width="4" stroke-linejoin="round" points="786.0,739.3 797.3,737.1 808.5,734.8 819.7,741.6 830.9,750.5 842.1,756.1 855.5,753.9 869.0,749.4 882.4,744.9 891.4,742.7 902.6,738.2 913.8,741.6 922.8,738.2 934.0,730.4 943.0,734.8 951.9,740.4 963.1,736.0 974.4,738.2"/>
<polyline fill="none" stroke="#9be61a" stroke-width="1.5" stroke-linejoin="round" points="866.0,790.0 862.0,798.0 862.0,806.0 866.0,814.0"/>
<polyline fill="none" stroke="#9be61a" stroke-width="9" stroke-linejoin="round" points="1226.0,772.0 1234.0,770.0 1240.0,774.0 1238.0,782.0 1230.0,786.0 1226.0,794.0 1230.0,802.0 1238.0,806.0 1246.0,804.0 1252.0,808.0 1254.0,800.0 1250.0,792.0"/>
<polyline fill="none" stroke="#74c010" stroke-width="2.5" stroke-linejoin="round" points="1226.0,772.0 1234.0,770.0 1240.0,774.0 1238.0,782.0 1230.0,786.0 1226.0,794.0 1230.0,802.0 1238.0,806.0 1246.0,804.0 1252.0,808.0 1254.0,800.0 1250.0,792.0"/>
<polyline fill="none" stroke="#e03a0a" stroke-width="2.2" stroke-dasharray="2 2" stroke-linejoin="round" points="368.0,300.0 366.0,310.0 364.0,320.0"/>
<polyline fill="none" stroke="#e03a0a" stroke-width="3.2" stroke-dasharray="2.5 2" stroke-linejoin="round" points="340.0,320.0 342.0,335.0 339.0,350.0 337.0,365.0 336.0,380.0 334.0,395.0 338.0,404.0"/>
<polyline fill="none" stroke="#e03a0a" stroke-width="2.2" stroke-dasharray="2 2.5" stroke-linejoin="round" points="344.0,330.0 345.0,345.0 342.0,360.0 341.0,380.0 344.0,398.0"/>
<polyline fill="none" stroke="#e03a0a" stroke-width="2.4" stroke-dasharray="2 2" stroke-linejoin="round" points="372.0,330.0 368.0,342.0 366.0,356.0 364.0,368.0 362.0,380.0"/>
<polyline fill="none" stroke="#e03a0a" stroke-width="1.8" stroke-dasharray="1.5 2.5" stroke-linejoin="round" points="366.0,336.0 362.0,350.0 360.0,366.0"/>
<polyline fill="none" stroke="#e03a0a" stroke-width="1.5" stroke-dasharray="1.5 1.5" stroke-linejoin="round" points="326.0,444.0 328.0,452.0"/>
<polyline fill="none" stroke="#ffe800" stroke-width="1.6" stroke-dasharray="2 1.5" stroke-linejoin="round" points="344.0,400.0 350.0,404.0 356.0,402.0 354.0,408.0"/>
<polyline fill="none" stroke="#ffe800" stroke-width="1.6" stroke-dasharray="3 1.5" stroke-linejoin="round" points="338.0,424.0 346.0,430.0 342.0,442.0 338.0,456.0 340.0,470.0 346.0,482.0 350.0,494.0 358.0,506.0 362.0,514.0"/>
<polyline fill="none" stroke="#ffe800" stroke-width="1.5" stroke-dasharray="2 1.5" stroke-linejoin="round" points="352.0,440.0 362.0,444.0 368.0,452.0"/>
<polyline fill="none" stroke="#ffe800" stroke-width="1.6" stroke-dasharray="3 1.5" stroke-linejoin="round" points="378.0,447.0 388.0,458.0 394.0,474.0 404.0,490.0 412.0,508.0 420.0,524.0 430.0,540.0 440.0,556.0 446.0,572.0 448.0,590.0 442.0,604.0 436.0,612.0"/>
<polyline fill="none" stroke="#ffe800" stroke-width="1.4" stroke-dasharray="2 2" stroke-linejoin="round" points="383.0,586.0 390.0,598.0 400.0,608.0 410.0,616.0"/>
<polyline fill="none" stroke="#56c456" stroke-width="1.6" stroke-dasharray="3 1.2" stroke-linejoin="round" points="364.0,492.0 360.0,504.0 366.0,512.0 372.0,522.0 380.0,534.0 386.0,548.0 392.0,560.0 398.0,572.0 406.0,584.0 414.0,594.0 424.0,604.0 436.0,612.0 448.0,620.0"/>
<polyline fill="none" stroke="#56c456" stroke-width="1.4" stroke-dasharray="2 1.5" stroke-linejoin="round" points="370.0,476.0 376.0,490.0 372.0,500.0"/>
<polyline fill="none" stroke="#56c456" stroke-width="1.4" stroke-dasharray="2.5 1.5" stroke-linejoin="round" points="394.0,548.0 402.0,562.0 410.0,576.0 420.0,588.0 430.0,598.0"/>
<polyline fill="none" stroke="#56c456" stroke-width="1.4" stroke-dasharray="2.5 2" stroke-linejoin="round" points="368.0,446.0 376.0,450.0 384.0,462.0 390.0,476.0 398.0,490.0 404.0,502.0 412.0,516.0"/>
<polyline fill="none" stroke="#e300e0" stroke-width="1.3" stroke-linejoin="round" points="394.9,546.0 402.1,548.0 401.0,553.2 396.0,552.0 394.9,546.0"/>
<polyline fill="none" stroke="#e300e0" stroke-width="1.2" stroke-linejoin="round" points="402.0,560.0 410.0,572.0 420.0,582.0 428.0,596.0 440.0,610.0"/>
<polyline fill="none" stroke="#e8501a" stroke-width="1.2" stroke-linejoin="round" points="409.0,630.0 414.0,628.0 420.0,629.0 421.0,633.0 414.0,634.0 410.0,633.0"/>
<polyline fill="none" stroke="#dcdcdc" stroke-width="9" stroke-linejoin="round" points="486.0,556.0 500.0,558.0 516.0,556.0 532.0,560.0 546.0,556.0"/>
<polyline fill="none" stroke="#dcdcdc" stroke-width="10" stroke-linejoin="round" points="548.0,574.0 560.0,590.0 572.0,606.0 586.0,622.0 604.0,638.0 622.0,654.0 636.0,672.0 648.0,690.0"/>
<polyline fill="none" stroke="#dcdcdc" stroke-width="5" stroke-linejoin="round" points="599.0,548.0 612.0,536.0 624.0,525.0"/>
<polyline fill="none" stroke="#dcdcdc" stroke-width="3" stroke-linejoin="round" points="596.8,553.6 592.0,563.2 599.2,572.8 602.8,587.2"/>
<polyline fill="none" stroke="#dcdcdc" stroke-width="4" stroke-linejoin="round" points="590.0,562.0 577.6,565.6 568.0,572.8 553.6,577.6"/>
<polyline fill="none" stroke="#dcdcdc" stroke-width="7" stroke-linejoin="round" points="532.0,604.0 540.0,616.0 536.0,632.0 532.0,648.0 534.0,662.0"/>
<polyline fill="none" stroke="#dcdcdc" stroke-width="6" stroke-linejoin="round" points="476.0,600.0 490.0,612.0 506.0,620.0 520.0,616.0"/>
<polyline fill="none" stroke="#e300e0" stroke-width="1.6" stroke-dasharray="3 2" stroke-linejoin="round" points="486.0,554.0 500.0,556.0 516.0,554.0 532.0,558.0 546.0,554.0"/>
<polyline fill="none" stroke="#e300e0" stroke-width="1.5" stroke-dasharray="2 3" stroke-linejoin="round" points="490.0,560.0 506.0,561.0 520.0,559.0 540.0,563.0"/>
<polyline fill="none" stroke="#e300e0" stroke-width="1.7" stroke-dasharray="3 2" stroke-linejoin="round" points="548.0,572.0 560.0,588.0 572.0,604.0 586.0,620.0 604.0,636.0 622.0,652.0 636.0,670.0 646.0,688.0"/>
<polyline fill="none" stroke="#e300e0" stroke-width="1.5" stroke-dasharray="2 3" stroke-linejoin="round" points="552.0,580.0 564.0,598.0 580.0,614.0 596.0,634.0 614.0,650.0 630.0,668.0"/>
<polyline fill="none" stroke="#f29a3e" stroke-width="1.4" stroke-dasharray="2 4" stroke-linejoin="round" points="556.0,590.0 570.0,610.0 588.0,628.0 606.0,646.0 624.0,664.0"/>
<polyline fill="none" stroke="#e300e0" stroke-width="1.6" stroke-dasharray="4 1" stroke-linejoin="round" points="599.0,549.0 612.0,537.0 624.4,525.0"/>
<polyline fill="none" stroke="#e300e0" stroke-width="1.3" stroke-dasharray="3 2" stroke-linejoin="round" points="596.8,553.6 592.0,563.2 599.2,572.8 602.8,587.2"/>
<polyline fill="none" stroke="#e300e0" stroke-width="1.4" stroke-dasharray="2 2" stroke-linejoin="round" points="532.0,604.0 540.0,616.0 536.0,632.0 532.0,648.0"/>
<polyline fill="none" stroke="#e300e0" stroke-width="1.4" stroke-dasharray="2 2" stroke-linejoin="round" points="476.0,600.0 490.0,612.0 506.0,620.0"/>
<polyline fill="none" stroke="#e300e0" stroke-width="1.6" stroke-dasharray="3 1" stroke-linejoin="round" points="608.0,690.0 614.0,680.0 620.0,694.0 626.0,686.0"/>
<polyline fill="none" stroke="#f29a3e" stroke-width="1.4" stroke-dasharray="3 1" stroke-linejoin="round" points="602.0,696.0 610.0,684.0 616.0,696.0"/>
<polyline fill="none" stroke="#e300e0" stroke-width="1.6" stroke-dasharray="4 1.5" stroke-linejoin="round" points="652.0,690.0 660.0,682.0 672.0,676.0 684.0,668.0 694.0,662.0 700.0,650.0"/>
<polyline fill="none" stroke="#e300e0" stroke-width="1.5" stroke-dasharray="4 1.5" stroke-linejoin="round" points="690.0,640.0 694.0,654.0 698.0,672.0"/>
<polyline fill="none" stroke="#e300e0" stroke-width="1.5" stroke-dasharray="4 1.5" stroke-linejoin="round" points="706.0,636.0 708.0,650.0 712.0,664.0 714.0,680.0"/>
<polyline fill="none" stroke="#3c9a3c" stroke-width="1.6" stroke-dasharray="3 1.5" stroke-linejoin="round" points="1120.0,530.0 1130.0,526.0 1144.0,526.0 1156.0,530.0 1166.0,538.0 1162.0,548.0 1150.0,550.0 1140.0,546.0"/>
<polyline fill="none" stroke="#3c9a3c" stroke-width="1.4" stroke-dasharray="3 2" stroke-linejoin="round" points="1100.0,518.0 1112.0,517.0 1124.0,521.0 1136.0,518.0"/>
<polyline fill="none" stroke="#3c9a3c" stroke-width="1.4" stroke-dasharray="2 2" stroke-linejoin="round" points="1060.0,520.0 1072.0,515.0 1084.0,520.0"/>
<polyline fill="none" stroke="#3c9a3c" stroke-width="1.6" stroke-dasharray="3 1.5" stroke-linejoin="round" points="1302.0,514.0 1290.0,526.0 1278.0,538.0 1266.0,550.0 1254.0,560.0 1240.0,570.0 1230.0,576.0"/>
<polyline fill="none" stroke="#6fd06f" stroke-width="1.5" stroke-dasharray="3 2" stroke-linejoin="round" points="1134.4,592.8 1168.0,566.0"/>
<polyline fill="none" stroke="#6fd06f" stroke-width="1.5" stroke-dasharray="3 2" stroke-linejoin="round" points="1148.8,597.6 1187.2,568.0"/>
<polyline fill="none" stroke="#6fd06f" stroke-width="1.5" stroke-dasharray="3 2" stroke-linejoin="round" points="1168.0,596.0 1200.0,574.0"/>
<polyline fill="none" stroke="#6fd06f" stroke-width="1.5" stroke-dasharray="3 2" stroke-linejoin="round" points="1176.0,572.0 1214.0,566.0"/>
<polyline fill="none" stroke="#6fd06f" stroke-width="1.5" stroke-dasharray="3 2" stroke-linejoin="round" points="1208.0,580.0 1232.0,570.0"/>
<polyline fill="none" stroke="#3c9a3c" stroke-width="1.5" stroke-dasharray="3 1.5" stroke-linejoin="round" points="1196.0,566.0 1212.0,566.0 1224.0,570.0"/>
<polyline fill="none" stroke="#3c9a3c" stroke-width="1.4" stroke-dasharray="3 1.5" stroke-linejoin="round" points="1206.0,590.0 1220.0,584.0 1232.0,576.0"/>
<polyline fill="none" stroke="#6fd06f" stroke-width="1.3" stroke-dasharray="2 3" stroke-linejoin="round" points="1150.0,608.0 1164.0,612.0 1180.0,608.0"/>
<polyline fill="none" stroke="#ffe800" stroke-width="1.3" stroke-dasharray="2 1" stroke-linejoin="round" points="1208.0,582.0 1212.0,588.0"/>
<polyline fill="none" stroke="#6fd06f" stroke-width="1.4" stroke-dasharray="3 1" stroke-linejoin="round" points="975.0,582.0 984.0,584.0 996.0,588.0"/>
</g>
</g>
<g fill="#595959"><polygon points="1141.5,319.5 1149,319 1149.3,324 1143,324.5"/><polygon points="1067,264.5 1075,260 1084,257 1083,260.5 1075,264.5 1068,266.5"/><polygon points="1176,307 1188,307.5 1190,313 1180,314 1176,312"/></g><g fill="#ffe800"><polygon points="1415,441.2 1422,440.6 1421.5,446 1415,446.5"/><polygon points="1427,440.6 1435,440 1435,443.5 1427.5,444.5"/></g><g fill="#e2e2e2"><polygon points="1437.5,441 1441.5,440.3 1441.5,443.5 1438,443.8"/><polygon points="1408,446.5 1415,445.5 1415,449 1408,451"/></g><g fill="#b3b3b3"><polygon points="1137,327 1141,326 1140,331 1137.5,331.5"/><polygon points="1132,336 1136,335 1136,342 1132.5,342"/></g>
<g fill="#e4e4e4" id="keys"><polygon points="1200,878 1204,876 1206,879 1202,880"/><polygon points="1216,877 1222,875 1224,878 1218,880"/><polygon points="1228,873 1238,869 1244,868 1240,873 1232,876"/><polygon points="1246,870 1252,867 1255,868 1250,872"/><polygon points="1355,573 1359,580 1358,590 1354,594 1357,584"/></g>
<g fill="none" stroke="#000" stroke-width="3.7" stroke-linejoin="round" stroke-linecap="round">
<polygon points="360.7,235.5 942.9,235.4 942.9,226.3 950.8,226.3 953.2,240.2 971.2,246.2 983.2,245.0 997.6,248.6 1004.8,254.6 1019.2,258.2 1033.6,254.6 1040.8,259.4 1063.6,261.3 1048.0,266.6 1028.8,277.4 1014.4,289.4 1003.6,295.4 1024.0,291.8 1033.6,290.6 1032.4,299.0 1043.2,296.6 1062.4,290.6 1076.8,282.2 1088.8,276.2 1099.6,277.4 1088.8,285.8 1084.0,293.0 1096.0,291.8 1108.0,299.0 1120.0,301.4 1134.4,296.6 1157.6,294.0 1158.8,301.2 1176.8,301.2 1176.8,311.0 1180.4,315.6 1170.0,313.1 1162.1,313.7 1159.4,316.4 1154.0,312.4 1145.9,311.7 1140.5,313.7 1131.1,315.8 1127.1,318.5 1123.0,316.4 1115.0,315.8 1110.3,322.5 1105.6,331.9 1100.2,340.0 1094.8,346.7 1092.1,352.1 1095.5,352.1 1102.2,344.7 1108.3,338.0 1113.6,331.9 1117.7,327.2 1121.0,324.5 1117.7,331.9 1112.3,341.3 1106.9,350.7 1104.2,357.5 1102.9,365.0 1098.5,383.0 1097.2,407.0 1100.8,419.0 1110.4,427.4 1120.0,426.6 1129.6,411.8 1132.0,395.0 1127.2,378.2 1127.1,365.0 1129.8,358.8 1129.8,350.7 1133.1,345.4 1137.8,342.7 1143.9,337.3 1148.6,334.6 1153.3,327.2 1155.3,322.5 1160.0,317.8 1172.0,321.6 1188.8,331.2 1192.4,340.8 1190.0,354.0 1184.0,364.8 1180.4,369.6 1182.8,376.8 1190.0,373.2 1200.8,366.0 1206.8,369.6 1209.2,382.8 1210.4,394.8 1203.2,403.2 1205.6,408.0 1197.2,412.8 1193.6,423.6 1190.0,427.2 1199.6,433.2 1210.4,435.6 1224.8,430.8 1236.8,423.6 1250.0,418.8 1265.6,412.8 1277.6,405.6 1286.0,399.6 1282.4,392.4 1283.6,386.4 1304.0,384.0 1313.6,387.6 1325.6,385.2 1340.0,379.2 1342.4,370.8 1338.8,363.6 1349.6,354.0 1359.2,344.4 1369.0,340.8 1440.3,340.3 1442.1,333.9 1449.1,332.2 1454.4,333.0 1459.7,326.9 1463.2,320.7 1466.7,312.8 1467.6,305.8 1472.0,295.2 1480.8,284.6 1488.7,276.2 1493.1,276.7 1494.9,282.0 1509.0,277.6 1516.0,282.0 1520.4,286.4 1520.4,319.8 1526.6,325.1 1527.5,333.9 1533.6,336.6 1536.2,344.5 1531.0,349.8 1523.0,351.5 1514.2,355.9 1505.4,355.0 1501.9,359.4 1496.6,353.3 1493.1,358.6 1491.4,365.6 1484.3,369.1 1475.5,374.4 1468.5,376.2 1463.2,383.2 1459.7,390.2 1456.2,395.5 1455.5,399.0 1454.9,395.6 1458.4,402.6 1459.8,405.0 1453.5,406.6 1449.6,409.7 1453.5,412.8 1458.2,414.4 1461.3,420.7 1465.3,425.4 1470.0,424.6 1469.2,420.7 1466.8,417.6 1470.8,416.8 1474.7,419.9 1475.5,424.6 1473.1,426.2 1463.7,427.8 1457.4,427.0 1450.4,430.1 1448.8,428.5 1445.6,426.2 1444.1,428.5 1441.7,433.3 1434.7,436.4 1422.1,436.4 1410.3,438.0 1398.5,442.7 1391.5,446.6 1386.2,455.4 1389.8,462.4 1388.0,476.5 1382.7,487.1 1375.7,494.1 1370.6,500.0 1367.8,497.6 1363.4,492.4 1358.1,485.3 1356.3,479.6 1358.5,481.5 1360.2,493.4 1367.3,498.7 1367.3,512.8 1363.8,525.1 1356.7,532.2 1349.7,542.7 1346.2,548.9 1345.3,548.0 1347.9,537.4 1353.2,530.4 1351.4,523.4 1346.2,516.3 1342.6,512.8 1340.0,505.8 1342.6,495.2 1346.2,486.4 1351.4,479.6 1344.4,484.6 1335.6,491.7 1333.8,504.0 1335.6,512.8 1339.1,530.4 1325.9,524.2 1335.6,535.7 1326.8,537.4 1337.4,544.5 1325.0,546.2 1339.1,553.3 1346.2,555.0 1347.9,563.8 1353.2,574.4 1356.7,585.0 1353.2,590.2 1346.0,592.9 1340.7,607.0 1335.4,611.4 1324.9,612.2 1316.1,616.6 1309.0,624.6 1303.8,632.5 1291.4,634.0 1284.4,640.4 1279.1,649.2 1275.6,654.5 1265.0,663.3 1258.0,668.6 1247.4,675.6 1239.5,680.9 1236.9,689.7 1231.6,702.0 1229.8,710.8 1230.4,716.1 1233.2,732.3 1239.6,753.8 1246.1,771.0 1252.6,790.4 1259.0,809.8 1261.2,824.8 1260.1,842.1 1255.8,855.0 1252.6,862.5 1246.1,864.7 1239.6,864.7 1237.5,860.4 1234.3,850.7 1231.0,844.2 1224.6,841.0 1222.4,829.1 1217.0,820.5 1211.7,816.2 1208.4,805.5 1206.3,797.9 1203.0,786.1 1205.2,773.2 1204.1,762.4 1198.7,756.0 1192.3,748.4 1185.8,740.9 1179.4,734.4 1171.8,734.4 1168.6,738.7 1159.2,742.4 1149.6,743.6 1147.2,735.2 1140.0,729.2 1130.4,723.2 1118.4,723.2 1109.9,722.4 1106.8,723.5 1102.0,728.0 1097.3,727.5 1094.2,714.9 1091.8,715.7 1089.5,727.5 1086.3,725.5 1082.4,725.9 1075.4,723.5 1067.5,725.1 1062.8,727.5 1067.5,733.0 1069.1,737.7 1064.4,744.0 1059.7,747.1 1062.8,751.8 1072.2,756.5 1073.0,759.7 1069.1,762.0 1064.4,763.6 1062.8,761.2 1065.9,758.9 1062.0,754.9 1054.9,750.2 1051.0,750.2 1050.2,758.1 1046.3,760.4 1044.0,754.9 1039.2,754.9 1034.5,759.7 1028.3,754.9 1024.3,750.2 1018.8,746.3 1016.5,742.4 1011.0,740.8 1007.1,744.0 1003.1,746.3 996.0,746.5 984.0,742.4 972.1,742.0 958.7,743.8 950.8,746.0 945.2,752.8 936.2,761.7 925.0,769.6 916.1,772.9 907.1,778.6 900.4,786.4 894.8,793.1 892.5,802.1 893.7,815.5 898.1,831.2 900.8,842.4 895.9,844.2 882.4,841.3 871.2,835.7 860.0,831.2 853.3,815.5 851.1,802.1 844.3,793.1 833.1,779.7 826.4,764.0 819.7,752.8 808.5,742.7 790.5,741.6 782.7,746.0 778.2,757.3 771.5,762.9 761.4,757.3 747.9,748.3 741.2,737.1 736.7,723.6 730.0,715.8 723.6,710.4 711.6,698.4 704.4,688.8 700.8,683.5 703.2,687.0 667.8,687.0 667.8,699.5 650.0,699.5 606.4,700.3 528.4,670.8 532.0,664.3 480.4,669.6 476.8,652.8 464.8,640.8 455.2,637.2 452.8,632.4 440.8,628.8 431.2,621.6 407.2,614.4 402.4,595.2 390.4,583.2 381.6,574.0 379.2,559.6 369.6,547.6 366.0,536.0 355.2,516.4 340.8,497.2 336.0,475.6 326.4,458.8 333.6,439.6 330.0,419.7 324.0,396.4 328.5,377.0 332.6,352.0 334.3,325.6 336.0,307.0 334.3,302.7 337.9,297.5 334.3,292.2 337.9,288.7 332.6,285.0 328.0,272.8 321.0,262.0 319.7,252.2 330.0,253.7 345.0,256.0 356.9,258.2 358.0,264.0 355.0,273.0 353.5,282.0 360.0,288.0 368.0,284.0 371.5,272.0 373.5,261.0 370.0,250.0 366.0,241.0 360.7,235.5"/>
<polygon points="1384.0,457.5 1393.0,450.0 1406.0,446.0 1416.0,446.2 1424.0,443.6 1434.5,441.5 1433.5,445.5 1422.0,451.0 1406.0,457.0 1391.0,459.5" stroke-width="3.3"/>
<polyline points="482.0,235.5 482.0,313.0 492.9,321.8 489.4,334.1 482.3,344.7 477.9,356.1 484.1,362.3 482.4,382.0 482.4,420.0"/>
<polyline points="336.0,307.0 352.8,308.9 359.0,315.0 360.7,323.9 370.4,326.0 382.7,323.0 395.0,325.3 409.2,321.2 423.2,317.7 440.8,313.7 458.5,312.4 482.0,312.5"/>
<polyline points="502.7,235.5 502.7,262.8 509.6,274.3 515.8,281.3 528.1,294.5 538.6,297.2 535.1,313.0 534.2,325.3 539.5,328.0 546.6,322.7 551.0,328.8 556.2,341.2 563.3,346.4 568.6,356.1 580.9,352.6 596.7,351.7 601.1,346.4 606.4,355.2 608.2,355.2"/>
<polyline points="330.0,420.0 608.2,420.0"/>
<polyline points="608.2,420.0 608.2,341.0 755.3,341.0 755.3,446.3 608.2,446.3 608.2,420.0"/>
<polyline points="608.2,446.3 650.0,446.3 650.0,552.0"/>
<polyline points="650.0,446.3 608.2,446.3"/>
<polyline points="755.3,235.5 755.3,341.0"/>
<polyline points="755.3,316.1 912.8,316.1"/>
<polyline points="755.3,393.9 872.0,393.5 881.6,400.0 896.0,397.6 910.4,401.2 911.6,400.0"/>
<polyline points="755.3,446.3 797.1,446.3 797.1,472.7 939.2,472.7"/>
<polyline points="650.0,552.0 797.1,552.0 797.1,472.7"/>
<polyline points="650.0,446.3 755.3,446.3"/>
<polyline points="545.0,420.0 545.0,571.2 539.2,578.4 532.0,577.2 529.6,588.0 532.0,601.2"/>
<polyline points="418.8,420.0 418.8,499.6 532.0,601.2 538.0,612.0 544.0,622.8 536.8,631.2 532.0,643.2 530.8,655.2 535.6,660.0 532.0,664.3"/>
<polyline points="480.4,669.6 532.0,664.3"/>
<polyline points="545.0,552.0 954.3,552.0"/>
<polyline points="650.0,552.0 650.0,699.5"/>
<polyline points="777.6,552.0 777.6,683.5 700.8,683.5"/>
<polyline points="777.6,565.2 841.5,565.2 841.5,616.8 848.4,620.4 858.0,622.8 867.6,627.6 877.2,628.8 884.4,633.6 894.0,633.6 901.2,637.2 910.8,634.8 918.0,637.2 930.0,633.6 939.6,632.4 949.2,636.0 955.2,639.6 966.0,642.0"/>
<polyline points="899.2,235.5 904.0,263.0 910.0,294.2 912.8,316.1 906.4,323.0 916.0,332.6 916.0,380.3 912.8,383.2 915.2,389.2 911.6,400.0 917.6,410.8 922.4,425.2 927.2,439.6 929.6,456.0 936.8,466.0 944.0,475.6 950.0,478.0 944.0,484.0 951.2,493.6 954.3,495.5 954.3,552.0 955.2,564.0 956.4,588.0 955.9,638.4"/>
<polyline points="916.0,380.3 1026.4,380.3"/>
<polyline points="929.6,456.3 1016.0,456.3 1021.0,458.0"/>
<polyline points="1003.6,295.4 1002.4,311.0 991.6,320.6 992.8,330.2 992.8,345.8 1004.8,354.2 1016.8,363.8 1024.0,371.0 1026.4,380.6 1027.6,392.6 1031.6,396.4 1040.0,406.0 1047.2,415.6 1044.8,427.6 1030.4,434.8 1028.0,442.0 1030.4,449.2 1020.8,457.6 1019.6,470.8 1028.0,485.2 1036.4,494.8 1040.0,503.2 1047.2,502.0 1042.4,514.0 1052.0,526.0 1061.6,535.6 1065.2,547.6 1069.0,551.5 1064.0,556.0 1061.2,564.0 1057.6,576.0 1051.6,590.4 1046.8,604.3 1039.6,619.2 1029.6,629.6 1026.0,644.0 1028.4,658.4 1029.6,675.2 1024.8,684.8 1020.0,696.8 1016.5,709.8 1057.3,709.8 1054.9,717.3 1058.1,723.5 1059.7,728.3 1061.0,732.0"/>
<polyline points="1038.4,406.8 1097.2,406.8"/>
<polyline points="1045.6,299.0 1062.4,307.4 1080.0,313.7 1090.1,316.4 1096.8,321.8 1097.5,329.9 1099.5,336.6 1100.2,339.0"/>
<polyline points="1103.7,424.0 1103.7,489.6 1100.8,494.4 1103.2,504.0 1096.0,516.0 1088.8,525.6 1092.4,532.8"/>
<polyline points="1069.0,551.5 1072.0,544.8 1084.0,548.4 1086.4,537.6 1092.4,532.8 1096.0,526.8 1108.0,525.6 1115.2,530.4 1124.8,522.0 1134.4,523.2 1144.0,513.6 1148.8,506.4 1159.6,504.0 1161.0,496.8 1172.8,499.2 1182.4,506.4 1196.8,508.8 1201.6,506.4 1208.8,513.6 1213.6,504.0 1225.6,496.8 1230.4,489.6 1242.4,482.4 1247.0,470.0 1244.0,462.0 1249.6,456.0 1250.8,451.2"/>
<polyline points="1122.8,424.8 1160.8,425.5 1190.0,427.2"/>
<polyline points="1160.8,425.5 1160.8,497.0"/>
<polyline points="1250.8,418.8 1250.8,479.0"/>
<polyline points="1250.8,479.0 1352.0,479.5"/>
<polyline points="1266.3,412.8 1266.3,420.0 1360.0,420.0 1366.9,429.0 1372.2,436.0 1366.0,444.8 1363.4,455.4 1372.2,464.2 1373.9,469.5 1366.9,473.0 1358.1,476.5 1352.8,479.4"/>
<polyline points="1372.2,436.0 1391.5,445.8"/>
<polyline points="1272.3,479.0 1272.3,493.3 1282.8,486.4 1291.6,482.9 1296.9,486.4 1307.4,494.3 1312.7,497.0 1321.5,502.2 1319.8,512.8 1325.0,516.3 1332.1,514.6 1335.6,519.8 1339.1,530.4"/>
<polyline points="1307.4,494.3 1293.4,491.7 1289.8,500.5 1281.0,505.8 1270.5,511.0 1265.2,519.8 1258.2,530.4 1257.4,535.7 1250.7,540.4 1244.0,541.1 1235.9,546.4 1233.2,542.4 1227.8,547.1 1222.5,543.1 1218.4,537.7"/>
<polyline points="1208.8,513.6 1206.4,520.8 1209.0,528.0 1213.0,535.0 1218.4,537.7"/>
<polyline points="1218.4,537.7 1217.1,539.7 1205.0,548.5 1196.9,555.2 1185.5,562.6"/>
<polyline points="1061.2,564.8 1092.0,564.8 1092.6,561.2 1130.0,561.2 1160.0,562.4 1185.5,562.6 1226.5,563.2 1347.9,563.8"/>
<polyline points="1226.5,563.2 1226.5,568.6 1221.1,574.0 1217.1,574.7 1213.0,577.4 1209.0,579.4 1206.3,576.7 1202.3,579.4 1196.9,584.8 1186.8,589.5 1180.1,592.2 1176.7,595.0 1171.5,597.7 1170.2,603.5"/>
<polyline points="1046.8,604.3 1193.0,604.3"/>
<polyline points="954.3,564.3 1047.2,564.3 1051.0,570.4 1045.0,577.0 1057.6,577.0"/>
<polyline points="966.0,657.2 1028.0,657.2"/>
<polyline points="966.0,642.0 966.0,684.0 972.0,696.0 976.8,708.4 974.4,724.0 970.8,736.0 972.1,742.0"/>
<polyline points="1090.5,604.3 1091.0,620.0 1085.6,725.6"/>
<polyline points="1143.6,604.3 1146.0,620.0 1152.0,658.4 1158.0,675.2 1153.2,692.0 1154.4,710.0 1159.2,717.2"/>
<polyline points="1101.3,710.2 1154.4,710.0"/>
<polyline points="1101.3,710.2 1101.3,714.1 1105.2,718.1 1106.8,723.5"/>
<polyline points="1042.4,731.4 1047.1,725.1 1053.4,728.3 1054.9,734.5 1048.7,736.1 1043.2,733.8 1042.4,731.4"/>
<polyline points="1102.0,728.8 1092.6,729.6"/>
<polyline points="1159.2,717.2 1216.0,721.5 1217.0,726.9 1219.2,715.1 1230.4,716.1"/>
<polyline points="1191.1,611.4 1196.4,617.5 1205.2,626.3 1212.2,638.6 1221.0,647.4 1229.8,656.2 1233.4,666.8 1237.8,673.8 1239.5,680.9"/>
<polyline points="1193.0,604.3 1191.1,611.4 1198.2,603.4 1212.2,598.2 1240.4,599.0 1245.7,608.7 1268.6,609.6 1291.4,634.0"/>
<polyline points="1400.7,341.0 1401.6,353.3 1399.8,365.6 1401.6,376.2 1404.2,383.2 1405.3,400.6 1401.7,405.0 1398.5,416.8 1397.8,428.5 1398.5,442.7"/>
<polyline points="1440.3,340.3 1441.2,348.0 1436.8,355.0 1430.6,358.6 1428.0,367.4 1422.7,377.9 1420.1,390.2 1417.0,400.6"/>
<polyline points="1449.1,332.2 1450.9,365.6 1454.4,390.2 1456.2,395.5"/>
<polyline points="1405.3,400.6 1446.1,400.6 1452.6,396.4 1455.5,399.0"/>
<polyline points="1399.5,419.1 1444.1,419.5 1445.6,426.2"/>
<polyline points="1435.0,419.4 1435.0,437.0"/>
<polyline points="1351.4,479.6 1352.6,514.0 1366.5,514.0"/>
<polyline points="899.5,836.0 896.5,822.0 895.5,806.0 898.0,794.0 904.0,785.0 912.0,777.0 922.0,772.5 932.0,767.0"/>
<polyline points="936.0,763.0 944.0,756.0 950.0,749.0"/>
<polyline points="1344.0,487.0 1339.5,495.0 1338.0,504.0 1340.0,512.0 1343.5,520.0 1346.5,528.0 1344.5,538.0"/>
<polyline points="1339.1,530.4 1325.9,524.2 1335.6,535.7 1326.8,537.4 1337.4,544.5 1325.0,546.2 1339.1,553.3 1346.2,555.0"/>
<polyline points="1331.0,571.0 1332.0,580.0 1342.6,576.2 1347.9,583.2"/>
<polyline points="1325.0,592.0 1334.0,588.0 1340.0,594.0 1332.0,600.0 1338.0,606.0"/>
<polyline points="1340.0,590.0 1348.0,588.0"/>
</g>
<g fill="#000" stroke="#000" stroke-width="2" stroke-linejoin="round">
<polygon points="360.5,234.4 364.1,240.2 369.5,242.0 369.9,248.3 369.5,251.9 372.2,255.5 374.8,260.9 372.2,264.5 371.7,271.6 372.2,278.8 369.5,282.4 365.9,286.0 360.5,288.7 356.0,286.9 353.3,282.4 352.4,277.9 355.1,273.4 356.9,268.9 357.8,264.5 356.0,260.9 359.6,257.3 361.4,252.8 360.5,250.1 356.0,251.0 352.4,248.3 352.4,244.7 356.9,242.0 360.5,242.9 362.3,240.2 359.6,237.6"/>
<polygon points="364.0,517.5 371.0,516.0 376.0,520.0 375.0,526.0 378.0,532.0 380.0,540.0 376.0,541.0 372.0,536.0 369.0,530.0 366.0,524.0"/>
<polygon points="1144.0,336.0 1149.0,335.5 1150.0,342.0 1147.0,347.5 1143.5,345.0"/>
<polygon points="1201.0,788.0 1209.0,789.0 1211.0,795.0 1206.0,799.0 1201.0,795.0"/>
<polygon points="1212.0,814.0 1219.0,815.0 1219.0,821.0 1213.0,820.0"/>
<polygon points="1236.0,858.0 1244.0,860.0 1245.0,866.0 1237.0,866.0"/>
<polygon points="1055.0,730.0 1062.5,729.0 1063.0,737.0 1059.0,740.5 1055.0,738.0"/>
<polygon points="1443.0,427.0 1449.0,426.5 1449.5,431.5 1444.0,432.5"/>
<polygon points="1455.5,435.5 1462.5,435.0 1462.5,438.5 1456.0,438.8"/>
<polygon points="1469.0,437.0 1474.5,437.3 1474.0,440.0 1469.0,439.8"/>
<polygon points="1386.0,448.0 1392.0,446.0 1393.5,452.0 1390.0,459.0 1384.5,461.0 1382.5,456.0"/>
<polygon points="1333.0,522.0 1339.0,524.0 1340.0,532.0 1334.0,530.0"/>
<polygon points="1330.0,538.0 1338.0,540.0 1338.0,546.0 1331.0,545.0"/>
<polygon points="1336.0,548.0 1346.0,550.0 1346.0,556.0 1337.0,555.0"/>
<polygon points="1330.0,572.0 1334.0,572.0 1334.0,577.0 1330.0,577.0"/>
<polygon points="1340.0,580.0 1346.0,581.0 1347.0,586.0 1341.0,586.0"/>
<polygon points="1330.0,592.0 1335.0,593.0 1335.0,598.0 1330.0,597.5"/>
<polygon points="1197.0,431.0 1202.0,431.0 1202.0,436.0 1197.0,436.0"/>
</g>
</svg>
<div class="t" id="t1" style="top:26px">Honeydew moth: Adult relative pop. size for each gen. w/ climate</div>
<div class="t" id="t2" style="top:66px">stress exclusion 11/26/2026</div>
<div class="t" id="s1" style="top:122.4px">Maps and modeling 01/02/2026 by Oregon State University IPPC USPEST.ORG and</div>
<div class="t" id="s2" style="top:155.4px">USDA-APHIS-PPQ; climate data from OSU PRISM Climate Group</div>
<div class="lt" style="top:327px">Adult relative</div>
<div class="lt" style="top:355px">pop. size</div>
<div class="lt" style="top:383px">(peak)</div>
<div class="sw" style="top:419.30px;background:#4d4d4d"></div><div class="lb" style="top:421.00px">excl.-severe</div><div class="sw" style="top:444.74px;background:#b3b3b3"></div><div class="lb" style="top:446.44px">excl.-moderate</div><div class="sw" style="top:470.18px;background:#e6e6e6"></div><div class="lb" style="top:471.88px">other stages</div><div class="sw" style="top:495.62px;background:#0029d8"></div><div class="lb" style="top:497.32px">0 gens.</div><div class="sw" style="top:521.06px;background:#a82616"></div><div class="lb" style="top:522.76px">1 gens.</div><div class="sw" style="top:546.50px;background:#dcc000"></div><div class="lb" style="top:548.20px">2 gens.</div><div class="sw" style="top:571.94px;background:#278727"></div><div class="lb" style="top:573.64px">3 gens.</div><div class="sw" style="top:597.38px;background:#a800a0"></div><div class="lb" style="top:599.08px">4 gens.</div><div class="sw" style="top:622.82px;background:#dc7614"></div><div class="lb" style="top:624.52px">5 gens.</div><div class="sw" style="top:648.26px;background:#00a5a5"></div><div class="lb" style="top:649.96px">6 gens.</div><div class="sw" style="top:673.70px;background:#5ea80e"></div><div class="lb" style="top:675.40px">7 gens.</div><div class="sw" style="top:699.14px;background:#873fd6"></div><div class="lb" style="top:700.84px">8 gens.</div><div class="sw" style="top:724.58px;background:#a38b21"></div><div class="lb" style="top:726.28px">9 gens.</div><div class="sw" style="top:750.02px;background:#70adf0"></div><div class="lb" style="top:751.72px">10 gens.</div>
</div></body></html>
